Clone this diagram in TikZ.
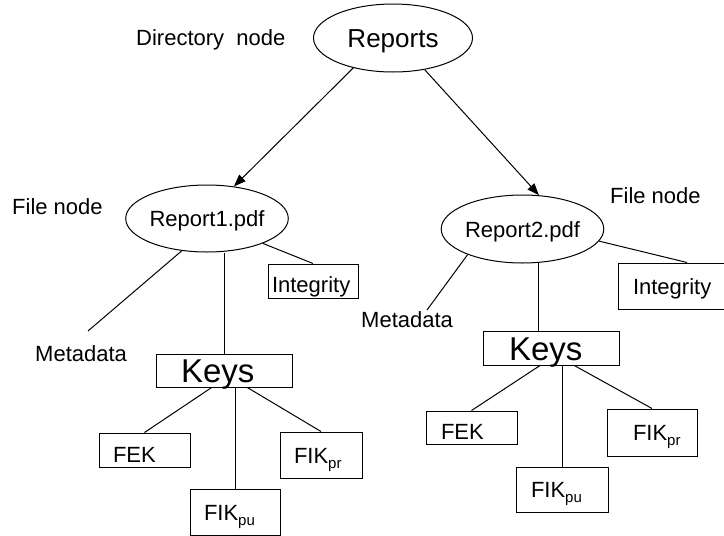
\documentclass[tikz,border=0pt]{standalone}
\usepackage{fontspec}
\setmainfont{Liberation Sans}
\usetikzlibrary{shapes.geometric,arrows.meta,calc}
\newcommand{\mybt}[3]{\makebox[#1pt][l]{\hspace*{#2pt}#3}}
\newcommand{\mysub}[1]{\raisebox{-5pt}{\fontsize{15}{15}\selectfont #1}}
\begin{document}
\begin{tikzpicture}[x=1pt,y=-1pt,
  every node/.style={font=\fontsize{22}{26}\selectfont},
  ell/.style={draw, ellipse, inner sep=0pt, line width=1pt, text depth=0pt, text height=16pt},
  bx/.style={draw, rectangle, inner sep=0pt, line width=1pt, text depth=0pt, text height=16pt},
  lbl/.style={anchor=base west, inner sep=0pt},
  conn/.style={line width=1pt},
  arr/.style={conn, -{Triangle[length=12pt,width=9pt]}}]
\useasboundingbox (0,0) rectangle (724,536);

% ellipses
\node[ell, minimum width=159pt, minimum height=68pt, font=\fontsize{26}{30}\selectfont, text height=19pt] (R) at (393,38) {Reports};
\node[ell, minimum width=148pt, minimum height=67pt] (R1) at (207,218.5) {Report1.pdf};
\node[ell, minimum width=147pt, minimum height=68pt] (R2) at (522.5,229) {Report2.pdf};

% labels
\node[lbl] (dn) at (136,45) {Directory~~node};
\node[lbl] (fn1) at (12,214) {File node};
\node[lbl] (fn2) at (610,203) {File node};
\node[lbl] (md1) at (35,361) {Metadata};
\node[lbl] (md2) at (361,327) {Metadata};

% boxes left
\node[bx, minimum height=34pt, text height=22pt] (I1) at (313,281) {\mybt{90}{4}{Integrity}};
\node[bx, minimum height=33pt, font=\fontsize{33}{36}\selectfont, text height=24pt] (K1) at (224,370.5) {\mybt{136}{25}{Keys}};
\node[bx, minimum height=34pt, text height=24pt] (F1) at (144.5,450) {\mybt{91}{14}{FEK}};
\node[bx, minimum height=46pt] (P1) at (321,455) {\mybt{82}{14}{FIK\mysub{pr}}};
\node[bx, minimum height=46pt] (U1) at (235,512) {\mybt{90}{14}{FIK\mysub{pu}}};

% boxes right
\node[bx, minimum height=46pt] (I2) at (687,286) {\mybt{138}{15}{Integrity}};
\node[bx, minimum height=34pt, font=\fontsize{33}{36}\selectfont, text height=24pt] (K2) at (551,348) {\mybt{136}{26}{Keys}};
\node[bx, minimum height=33pt, text height=24pt] (F2) at (471.5,427.5) {\mybt{91}{15}{FEK}};
\node[bx, minimum height=47pt] (P2) at (652,432.5) {\mybt{90}{26}{FIK\mysub{pr}}};
\node[bx, minimum height=45pt] (U2) at (562,489.5) {\mybt{92}{15}{FIK\mysub{pu}}};

\coordinate (m1) at (88,331);
\coordinate (m2) at (427,310);

% arrows
\draw[arr] (R.217) -- (R1.50);
\draw[arr] (R.315) -- (R2.64);

% left tree
\draw[conn] (R1.232) -- (m1);
\draw[conn] (K1.north) -- (K1.north |- R1.south);
\draw[conn] (R1.336) -- (I1.north);
\draw[conn] ($(K1.south west)!0.41!(K1.south east)$) -- (F1.north);
\draw[conn] (U1.north) -- (U1.north |- K1.south);
\draw[conn] ($(K1.south west)!0.67!(K1.south east)$) -- (P1.north);

% right tree
\draw[conn] (R2.205) -- (m2);
\draw[conn] (R2.296) -- (R2.296 |- K2.north);
\draw[conn] (R2.351) -- (I2.north);
\draw[conn] ($(K2.south west)!0.42!(K2.south east)$) -- (F2.north);
\draw[conn] (U2.north) -- (U2.north |- K2.south);
\draw[conn] ($(K2.south west)!0.67!(K2.south east)$) -- (P2.north);
\end{tikzpicture}
\end{document}
